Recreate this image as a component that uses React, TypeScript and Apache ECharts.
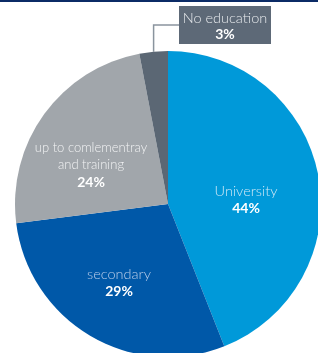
import React, { useEffect, useRef } from 'react';
import * as echarts from 'echarts';

const categories = ['University', 'secondary', 'up to comlementray\nand training', 'No education'];
const values = [44, 29, 24, 3];
const colors = ['#0099d9', '#0058a8', '#a1a6ab', '#5b6774'];
const nameColors = ['#cfe8f6', '#b9cde9', '#f2f3f4', '#e6e9ec'];
const nameSizes = [14.5, 14.5, 13, 14.5];

export default function App() {
  const ref = useRef<HTMLDivElement>(null);
  useEffect(() => {
    const chart = echarts.init(ref.current!, null, { renderer: 'svg' });
    const labelPos = [[246, 199], [119, 282], [91, 164]];
    const fmt = (p: any) => {
      const lines = String(p.name).split('\n').map((l: string) => `{n|${l}}`);
      return lines.join('\n') + `\n{p|${p.value}%}`;
    };
    chart.setOption({
      animation: false,
      graphic: [
        { type: 'rect', shape: { x: 0, y: 0, width: 318, height: 2 }, style: { fill: '#0b2b66' } },
      ],
      series: [
        {
          type: 'pie',
          center: [168, 204],
          radius: 153,
          startAngle: 90,
          silent: true,
          emphasis: { disabled: true },
          data: categories.map((name, i) => ({
            name,
            value: values[i],
            itemStyle: { color: colors[i] },
            label:
              i === 3
                ? {
                    show: true,
                    position: 'outside',
                    formatter: fmt,
                    backgroundColor: '#5d6977',
                    width: 92,
                    padding: [3, 0, 3, 0],
                    align: 'center',
                    rich: {
                      n: { fontFamily: 'Lato', fontWeight: 300, fontSize: nameSizes[i], lineHeight: 16, color: nameColors[i], width: 92, align: 'center' },
                      p: { fontFamily: 'Lato', fontWeight: 'bold', fontSize: 14, lineHeight: 16, color: '#ffffff', width: 92, align: 'center' },
                    },
                  }
                : {
                    show: true,
                    position: 'inside',
                    formatter: fmt,
                    align: 'center',
                    rich: {
                      n: { fontFamily: 'Lato', fontWeight: 300, fontSize: nameSizes[i], lineHeight: 17, color: nameColors[i], align: 'center' },
                      p: { fontFamily: 'Lato', fontWeight: 'bold', fontSize: 14, lineHeight: 17, color: '#ffffff', align: 'center' },
                    },
                  },
            labelLine:
              i === 3
                ? { show: true, lineStyle: { color: '#8a949e', width: 1.5 } }
                : { show: false },
          })),
          labelLayout: (p: any) => {
            if (p.dataIndex === 3) {
              const s = p.labelLinePoints && p.labelLinePoints[0] ? p.labelLinePoints[0] : [153, 52];
              return {
                x: 225,
                y: 25,
                align: 'center',
                verticalAlign: 'middle',
                labelLinePoints: [s, [s[0], 25], [179, 25]],
              };
            }
            const [x, y] = labelPos[p.dataIndex];
            return { x, y, align: 'center', verticalAlign: 'middle' };
          },
        },
      ],
    });
    return () => chart.dispose();
  }, []);
  return <div ref={ref} style={{ position: 'fixed', left: 0, top: 0, width: 318, height: 353 }} />;
}
